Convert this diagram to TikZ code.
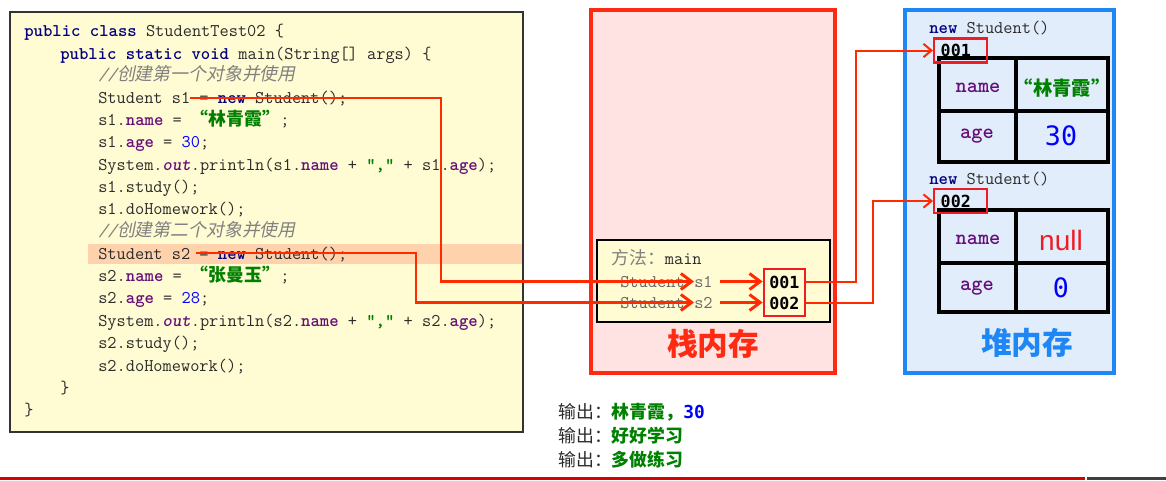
\documentclass[tikz,border=0pt]{standalone}
\usepackage{fontspec}
\setmainfont{Liberation Serif}
\newfontfamily\cjk{Noto Sans CJK SC}
\newfontfamily\cjksl[FakeSlant=0.2]{Noto Sans CJK SC}
\newfontfamily\consol{DejaVu Sans Mono}
\newfontfamily\sans{Liberation Sans}
\usepackage{tikz}
\usetikzlibrary{arrows.meta,fit}
\definecolor{codebg}{HTML}{FFFBD3}
\definecolor{codeframe}{HTML}{333333}
\definecolor{hlrow}{HTML}{FDD2AC}
\definecolor{stackbg}{HTML}{FFE3E3}
\definecolor{stackred}{HTML}{FF2A12}
\definecolor{heapbg}{HTML}{E1EDFB}
\definecolor{heapblue}{HTML}{1E87F5}
\definecolor{boxred}{HTML}{EE1D24}
\definecolor{arrred}{HTML}{FF2A00}
\definecolor{kwblue}{HTML}{000080}
\definecolor{fldpurple}{HTML}{660E7A}
\definecolor{strgreen}{HTML}{008000}
\definecolor{numblue}{HTML}{0000FF}
\definecolor{cmtgray}{HTML}{808080}
\definecolor{txt}{HTML}{2B2B2B}
\newcommand{\codefont}{\fontsize{13.4}{16}\selectfont\ttfamily}
\newcommand{\kw}[1]{{\bfseries\color{kwblue}#1}}
\newcommand{\fld}[1]{{\bfseries\color{fldpurple}#1}}
\newcommand{\outf}[1]{{\bfseries\itshape\color{fldpurple}#1}}
\newcommand{\str}[1]{{\cjk\bfseries\color{strgreen}#1}}
\newcommand{\strc}[1]{{\bfseries\color{strgreen}#1}}
\newcommand{\num}[1]{{\color{numblue}#1}}
\newcommand{\cmt}[1]{{\itshape\color{cmtgray}//{\cjksl #1}}}
\tikzset{
  code/.style={anchor=base west, inner sep=0pt, font=\codefont, text=txt},
  ref/.style={draw=arrred, line width=2.2pt, -{Straight Barb[length=8pt,width=12pt]}},
  refthin/.style={draw=arrred, line width=1.5pt, -{Straight Barb[length=6pt,width=10pt]}},
  addr/.style={draw=boxred, line width=1.6pt, anchor=west, inner xsep=5pt, minimum height=18pt, text width=30pt, font=\consol\bfseries\fontsize{12.5}{14}\selectfont},
  tbl/.style={line width=3pt, line cap=rect},
  cell/.style={inner sep=0pt},
  key/.style={cell, font=\ttfamily\bfseries\fontsize{16}{18}\selectfont, text=fldpurple},
}
\begin{document}
\begin{tikzpicture}[x=0.75pt,y=-0.75pt]
  \useasboundingbox (0,0) rectangle (1166,480);
  % code panel
  \draw[codeframe, line width=1.4pt, fill=codebg] (10,12) rectangle (523,432);
  \fill[hlrow] (88,244) rectangle (522,264);
  \node[code] (l1) at (24,36) {\kw{public class} StudentTest02 \{};
  \node[code] (l2) at (60,59) {\kw{public static void} main(String[] args) \{};
  \node[code] (l3) at (98,80) {\cmt{创建第一个对象并使用}};
  \node[code] (l4) at (98,103) {Student s1 = \kw{new} Student();};
  \node[code] (l5) at (98,125) {s1.\fld{name} = \str{“林青霞”};};
  \node[code] (l6) at (98,147) {s1.\fld{age} = \num{30};};
  \node[code] (l7) at (98,170) {System.\outf{out}.println(s1.\fld{name} + \strc{","} + s1.\fld{age});};
  \node[code] (l8) at (98,192) {s1.study();};
  \node[code] (l9) at (98,214) {s1.doHomework();};
  \node[code] (l10) at (98,236) {\cmt{创建第二个对象并使用}};
  \node[code] (l11) at (98,259) {Student s2 = \kw{new} Student();};
  \node[code] (l12) at (98,281) {s2.\fld{name} = \str{“张曼玉”};};
  \node[code] (l13) at (98,303) {s2.\fld{age} = \num{28};};
  \node[code] (l14) at (98,326) {System.\outf{out}.println(s2.\fld{name} + \strc{","} + s2.\fld{age});};
  \node[code] (l15) at (98,348) {s2.study();};
  \node[code] (l16) at (98,371) {s2.doHomework();};
  \node[code] (l17) at (60,393) {\}};
  \node[code] (l18) at (24,415) {\}};
  \coordinate (c1) at (190,98);
  \coordinate (c2) at (196,253);
  % stack
  \draw[stackred, line width=2.4pt, fill=stackbg] (591,10) rectangle (835,373);
  \draw[black, line width=0.8pt, fill=codebg] (597,240) rectangle (830,322);
  \node[code] (meth) at (611,264) {{\cjk\color{cmtgray}方法：}main};
  \node[code, text=cmtgray!80!black] (t1) at (620,287) {Student};
  \node[code, text=cmtgray!80!black] (v1) at (694,287) {s1};
  \node[code, text=cmtgray!80!black] (t2) at (620,308) {Student};
  \node[code, text=cmtgray!80!black] (v2) at (694,308) {s2};
  \node[code, font=\consol\bfseries\fontsize{12.5}{14}\selectfont, text=black] (a1) at (769,288) {001};
  \node[code, font=\consol\bfseries\fontsize{12.5}{14}\selectfont, text=black] (a2) at (769,309) {002};
  \node[draw=boxred, line width=1.6pt, inner xsep=4pt, inner ysep=5pt, fit=(a1)(a2)] (abox) {};
  \node[font=\cjk\bfseries\fontsize{23}{26}\selectfont, text=stackred] (stk) at (713,344) {栈内存};
  % heap
  \draw[heapblue, line width=2.4pt, fill=heapbg] (905,10) rectangle (1114,373);
  \node[code] (n1) at (929,33) {\kw{new} Student()};
  \draw[tbl] (939,58) rectangle (1108,162);
  \draw[tbl] (1016,58) -- (1016,162);
  \draw[tbl] (939,111) -- (1108,111);
  \node[addr] (h1) at (933,50.5) {001};
  \node[key] (k1) at (978,88) {name};
  \node[cell, font=\cjk\bfseries\fontsize{14.5}{16}\selectfont, text=strgreen] (s1) at (1062,88) {“林青霞”};
  \node[key] (k2) at (977,136) {age};
  \node[cell, font=\consol\fontsize{20}{24}\selectfont, text=numblue] (s2) at (1061,136) {30};
  \node[code] (n2) at (929,184) {\kw{new} Student()};
  \draw[tbl] (939,210) rectangle (1108,312);
  \draw[tbl] (1016,210) -- (1016,312);
  \draw[tbl] (939,263) -- (1108,263);
  \node[addr] (h2) at (933,201) {002};
  \node[key] (k3) at (978,240) {name};
  \node[cell, font=\sans\fontsize{21}{24}\selectfont, text=boxred] (s3) at (1061,240) {null};
  \node[key] (k4) at (977,288) {age};
  \node[cell, font=\consol\fontsize{20}{24}\selectfont, text=numblue] (s4) at (1061,288) {0};
  \node[font=\cjk\bfseries\fontsize{23}{26}\selectfont, text=heapblue] (hp) at (1027,343) {堆内存};
  % references
  \draw[ref] (c1) -- (441,98) |- (v1.west);
  \draw[ref] (c2) -- (416,253) |- (v2.west);
  \draw[ref, shorten <=5pt] (v1.east) -- (v1.east -| abox.west);
  \draw[ref, shorten <=5pt] (v2.east) -- (v2.east -| abox.west);
  \draw[refthin] (abox.east |- a1) -- ++(50,0) |- (h1.west);
  \draw[refthin] (abox.east |- a2) -- ++(67,0) |- (h2.west);
  % output
  \node[code] (o1) at (558,418) {{\cjk\color{txt}输出：}\str{林青霞，}{\consol\bfseries\color{numblue}30}};
  \node[code] (o2) at (558,442) {{\cjk\color{txt}输出：}\str{好好学习}};
  \node[code] (o3) at (558,466) {{\cjk\color{txt}输出：}\str{多做练习}};
  \fill[red!85!black] (0,477) rectangle (1085,480);
  \fill[black!75] (1087,477) rectangle (1166,480);
\end{tikzpicture}
\end{document}
